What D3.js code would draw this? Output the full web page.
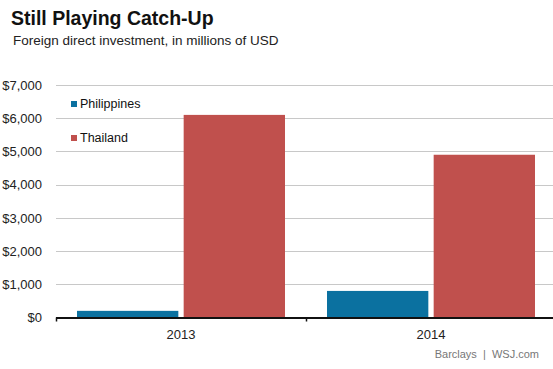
<!DOCTYPE html>
<html><head><meta charset="utf-8">
<script src="https://cdn.jsdelivr.net/npm/d3@7"></script>
<style>body{margin:0;background:#fff;} svg{display:block;font-family:"Liberation Sans",Arial,sans-serif;}</style>
</head><body>
<script>
const years = ["2013", "2014"];
const seriesNames = ["Philippines", "Thailand"];
const philippines = [200, 800];
const thailand = [6100, 4900];
const yTicks = [0, 1000, 2000, 3000, 4000, 5000, 6000, 7000];
const colors = ["#0b71a0", "#c0504d"];

const W = 553, H = 369;
const svg = d3.select("body").append("svg").attr("width", W).attr("height", H);
const x0 = d3.scaleBand().domain(years).range([56, 556]).paddingInner(0).paddingOuter(0);
const x1 = d3.scaleBand().domain(seriesNames).range([21, 229]).paddingInner(0.05);
const y = d3.scaleLinear().domain([0, 7000]).range([317.5, 85]);

// title
svg.append("text").attr("x", 11).attr("y", 25).attr("font-size", 19.5).attr("font-weight", "bold").attr("fill", "#111").text("Still Playing Catch-Up");
svg.append("text").attr("x", 13).attr("y", 45).attr("font-size", 13.5).attr("fill", "#222").text("Foreign direct investment, in millions of USD");

// gridlines
svg.append("g").selectAll("line").data(yTicks.filter(d => d > 0)).join("line")
  .attr("x1", 56).attr("x2", W).attr("y1", d => Math.round(y(d)) + 0.5).attr("y2", d => Math.round(y(d)) + 0.5)
  .attr("stroke", "#c8c8c8").attr("stroke-width", 1);

// y axis labels
const yAxis = d3.axisLeft(y).tickValues(yTicks).tickSize(0).tickPadding(0).tickFormat(d => "$" + d3.format(",")(d));
const ya = svg.append("g").attr("transform", "translate(42,0)").call(yAxis);
ya.select(".domain").remove();
ya.selectAll("text").attr("font-size", 13).attr("fill", "#222").attr("font-family", "Liberation Sans, Arial, sans-serif");

// bars
const data = years.map((yr, i) => ({ year: yr, vals: [philippines[i], thailand[i]] }));
svg.append("g").selectAll("g").data(data).join("g")
  .attr("transform", d => `translate(${x0(d.year)},0)`)
  .selectAll("rect").data(d => d.vals.map((v, j) => ({ name: seriesNames[j], v, j }))).join("rect")
  .attr("x", d => x1(d.name)).attr("width", x1.bandwidth())
  .attr("y", d => y(d.v)).attr("height", d => y(0) - y(d.v))
  .attr("fill", d => colors[d.j]);

// x axis
const xAxis = d3.axisBottom(x0).tickSize(0).tickPadding(12);
const xa = svg.append("g").attr("transform", `translate(0,${y(0)})`).call(xAxis);
xa.select(".domain").remove();
xa.selectAll("text").attr("font-size", 13).attr("fill", "#222").attr("font-family", "Liberation Sans, Arial, sans-serif");
svg.append("line").attr("x1", 56).attr("x2", W).attr("y1", y(0) + 0.5).attr("y2", y(0) + 0.5).attr("stroke", "#111").attr("stroke-width", 2);
svg.append("g").selectAll("line").data([56, 306]).join("line")
  .attr("x1", d => d + 0.5).attr("x2", d => d + 0.5).attr("y1", y(0)).attr("y2", y(0) + 4)
  .attr("stroke", "#111").attr("stroke-width", 1.5);

// legend
const lg = svg.append("g").selectAll("g").data(seriesNames).join("g")
  .attr("transform", (d, i) => `translate(71,${101 + i * 34})`);
lg.append("rect").attr("width", 6).attr("height", 6).attr("fill", (d, i) => colors[i]);
lg.append("text").attr("x", 9).attr("y", 6.5).attr("font-size", 12.5).attr("fill", "#111").text(d => d);

// source
svg.append("text").attr("x", 539).attr("y", 358).attr("text-anchor", "end").attr("font-size", 11).attr("fill", "#777").text("Barclays  |  WSJ.com").attr("xml:space", "preserve").style("white-space", "pre");
</script>
</body></html>
